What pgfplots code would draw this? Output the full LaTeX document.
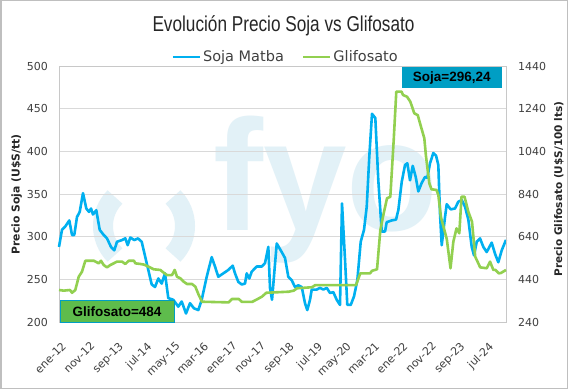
\documentclass[border=0pt]{standalone}
\usepackage{pgfplots}
\pgfplotsset{compat=1.18}
\usepackage{fontspec}
\setmainfont{DejaVu Sans}
\newfontfamily\arialf{Liberation Sans}
\definecolor{sojablue}{RGB}{0,176,240}
\definecolor{glifgreen}{RGB}{146,208,80}
\definecolor{gridgray}{RGB}{217,217,217}
\definecolor{framegray}{RGB}{200,200,200}
\definecolor{outergray}{RGB}{191,191,191}
\definecolor{ticktext}{RGB}{64,64,64}
\definecolor{labeltext}{RGB}{38,38,38}
\definecolor{boxteal}{RGB}{0,158,196}
\definecolor{boxgreen}{RGB}{94,188,76}
\definecolor{wm}{RGB}{226,241,247}
\begin{document}
\begin{tikzpicture}[x=1pt,y=1pt]
\useasboundingbox (0,0) rectangle (568,389);
\fill[white] (0,0) rectangle (568,389);
% watermark logo
\draw[wm, line width=20pt] (144,163) ++(135:41) arc (135:225:41);
\draw[wm, line width=20pt] (144,163) ++(-45:41) arc (-45:45:41);
\node[anchor=base west, inner sep=0pt, text=wm, font=\arialf\bfseries\fontsize{158}{160}\selectfont] at (213,159) {\scalebox{0.95}[1]{fyo}};
\begin{axis}[
  at={(59pt,67pt)}, anchor=south west, scale only axis,
  width=447pt, height=256pt,
  xmin=0, xmax=157, ymin=200, ymax=500,
  ytick={200,250,...,500},
  xtick={0,10,...,150},
  xticklabels={ene-12,nov-12,sep-13,jul-14,may-15,mar-16,ene-17,nov-17,sep-18,jul-19,may-20,mar-21,ene-22,nov-22,sep-23,jul-24},
  ytick pos=left, xtick pos=bottom,
  ymajorgrids, grid style={gridgray, line width=0.75pt},
  major tick length=0pt,
  axis line style={framegray, line width=0.75pt},
  /pgf/number format/assume math mode=true,
  tick label style={font=\fontsize{11}{13}\selectfont, text=ticktext},
  yticklabel style={anchor=east, inner sep=0pt, xshift=-11pt},
  xticklabel style={xshift=2pt, yshift=-19pt, rotate=45, anchor=north east, inner sep=0pt},
  legend style={at={(0.507,1.035)}, anchor=center, draw=none, fill=none,
    legend columns=2, font=\fontsize{14.5}{16}\selectfont, text=ticktext,
    /tikz/every even column/.append style={column sep=16pt}},
  legend image code/.code={\draw (0pt,0pt) -- (27pt,0pt);},
  clip=false,
]
\addplot[sojablue, line width=2.6pt, line join=round] coordinates {
(0,288) (1.05,308) (2.21,312) (3.62,319) (4.57,302) (5.37,302) (6.32,323) (7.27,329)
(8.43,351) (9.59,333) (10.54,329) (11.24,333) (11.94,326) (13.10,331) (14.30,308)
(15.70,302) (16.86,298) (18.26,288) (19.42,284) (20.37,294) (22.13,296) (23.29,298)
(24.13,290) (25.04,299) (26.45,296) (27.75,298) (29.05,294) (30.80,269) (32.56,244)
(33.72,241) (34.88,251) (36.07,245) (37.23,257) (38.39,228) (40.15,226) (41.90,218)
(43.10,224) (44.61,210) (46.01,222) (47.42,216) (48.93,214) (50.12,226) (51.88,253)
(53.64,276) (54.79,265) (55.95,253) (57.71,257) (59.47,261) (61.01,266) (61.82,257)
(62.98,247) (64.17,244) (65.33,245) (65.93,257) (66.84,251) (67.69,259) (69.44,265)
(71.20,265) (72.36,269) (73.52,288) (74.11,240) (74.82,226) (76.47,292) (78.22,282)
(79.38,275) (80.54,253) (81.73,249) (82.89,241) (84.05,243) (85.25,241) (86.41,222)
(87.21,214) (88.16,226) (88.76,238) (90.52,238) (91.68,240) (92.83,238) (94.03,240)
(95.19,234) (96.35,235) (97.54,226) (98.70,220) (99.40,339) (100.46,273) (101.26,220)
(102.46,220) (103.62,230) (104.78,249) (105.97,294) (107.13,308) (108.08,335)
(108.99,394) (109.94,444) (111.10,439) (112.15,366) (113.35,306) (114.51,306)
(115.10,317) (116.86,319) (118.37,320) (119.18,331) (120.37,364) (121.53,384)
(122.34,386) (123.29,366) (124.24,383) (125.29,370) (126.20,353) (127.40,363)
(128.56,370) (129.36,369) (130.31,386) (131.47,398) (132.42,395) (133.23,384)
(133.82,327) (134.42,290) (135.58,323) (136.18,338) (137.58,332) (139.09,333)
(140.25,341) (141.45,343) (142.61,335) (143.77,320) (144.96,288) (145.77,278)
(146.72,294) (147.88,298) (149.03,288) (150.23,282) (151.98,293) (153.14,280)
(154.30,270) (155.50,284) (157,296.24)
};
\addlegendentry{Soja Matba}
\addlegendimage{glifgreen, line width=2.6pt}
\addlegendentry{Glifosato}
\end{axis}
\begin{axis}[
  at={(59pt,67pt)}, anchor=south west, scale only axis,
  width=447pt, height=256pt,
  xmin=0, xmax=157, ymin=240, ymax=1440,
  axis y line*=right, axis x line=none,
  ytick={240,440,...,1440},
  major tick length=0pt,
  axis line style={framegray, line width=0.75pt},
  /pgf/number format/assume math mode=true,
  /pgf/number format/set thousands separator={},
  tick label style={font=\fontsize{11}{13}\selectfont, text=ticktext},
  yticklabel style={anchor=west, inner sep=0pt, xshift=12pt},
  clip=false,
]
\addplot[glifgreen, line width=2.6pt, line join=round] coordinates {
(0,390) (1.65,387) (3.86,390) (4.57,377) (5.73,390) (6.92,452) (8.08,476) (9.24,527)
(12.29,527) (13.94,515) (14.75,527) (15.70,507) (16.86,496) (18.02,507) (19.21,515)
(20.37,523) (22.13,523) (23.29,512) (24.48,527) (26.34,527) (26.80,515) (28.56,512)
(29.86,509) (31.51,499) (33.26,487) (35.58,484) (36.78,471) (37.93,460) (39.69,460)
(40.64,484) (41.45,452) (42.61,445) (43.80,429) (44.96,418) (46.72,418) (47.87,406)
(49.07,367) (50.23,335) (59.61,332) (60.77,348) (63.12,348) (64.28,334) (67.79,334)
(69.55,346) (71.30,359) (72.81,377) (80.68,382) (82.44,387) (83.60,398) (88.87,403)
(90.02,413) (104.32,413) (105.83,468) (109.24,468) (109.94,480) (111.70,487)
(112.86,671) (114.05,750) (115.21,820) (116.37,827) (117.56,1093) (118.47,1320)
(120.30,1320) (120.83,1304) (122.23,1296) (123.39,1273) (124.80,1218) (125.99,1210)
(127.15,1155) (128.31,1101) (128.91,1015) (130.07,890) (130.84,862) (132.60,859)
(133.23,835) (134.18,730) (136.21,628) (137.51,492) (138.50,616) (139.62,679)
(140.60,656) (141.38,827) (142.43,827) (143.77,757) (145.06,710) (146.19,546)
(147.94,496) (150.23,492) (151.39,523) (152.55,484) (153.32,484) (154.45,468)
(155.25,470) (157,484)
};
\end{axis}
% title
\node[anchor=base, inner sep=0pt, text=labeltext, font=\arialf\fontsize{21.5}{24}\selectfont] at (283.5,357) {\scalebox{0.8}[1]{Evolución Precio Soja vs Glifosato}};
% axis titles
\node[rotate=90, inner sep=0pt, text=labeltext, font=\bfseries\fontsize{10.8}{12}\selectfont] at (16.7,194.5) {Precio Soja (U\$S/tt)};
\node[rotate=90, inner sep=0pt, text=labeltext, font=\bfseries\fontsize{10.5}{12}\selectfont] at (559,200) {Precio Glifosato (U\$S/100 lts)};
% annotation boxes
\node[fill=boxteal, minimum width=100pt, minimum height=21pt, inner sep=0pt, text=black, font=\arialf\bfseries\fontsize{13.5}{15}\selectfont] at (451.7,311.3) {Soja=296,24};
\node[fill=boxgreen, draw=boxteal, line width=0.75pt, minimum width=114pt, minimum height=22pt, inner sep=0pt, text=black, font=\arialf\bfseries\fontsize{13.5}{15}\selectfont] at (117,77.5) {Glifosato=484};
% outer border
\draw[outergray, line width=1.5pt] (0.75,0.75) rectangle (567.25,388.25);
\end{tikzpicture}
\end{document}
